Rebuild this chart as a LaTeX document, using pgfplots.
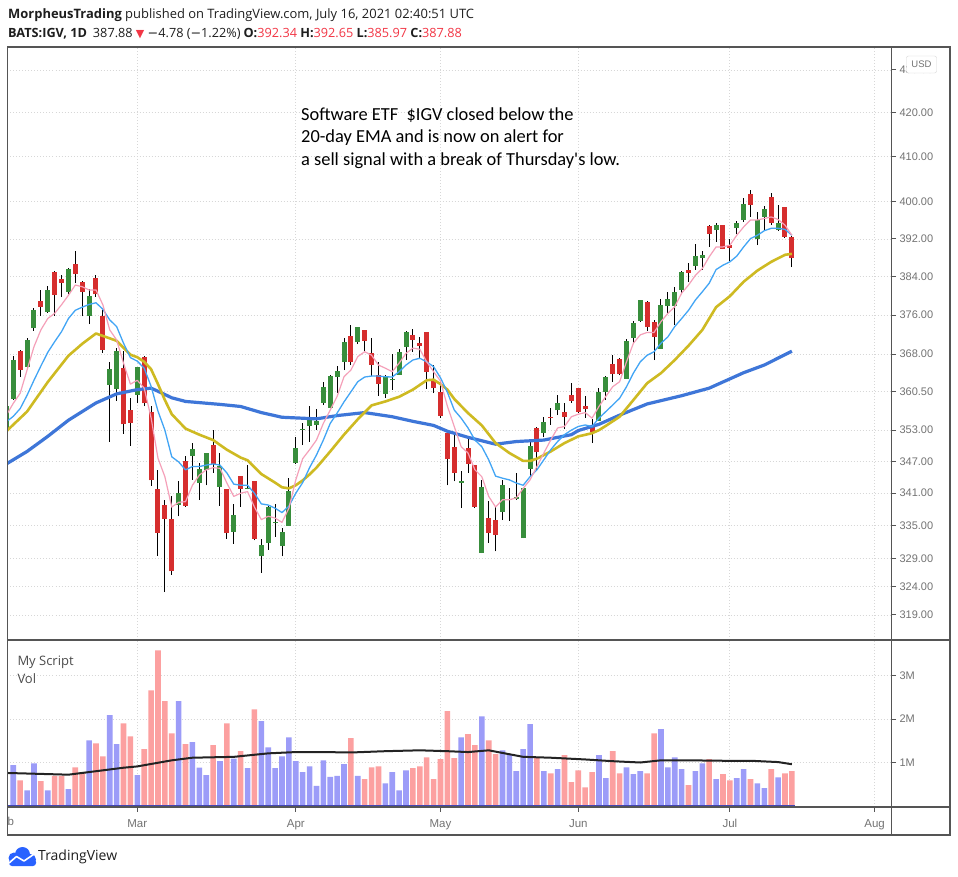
\documentclass[border=0pt]{standalone}
\usepackage{pgfplots}
\pgfplotsset{compat=1.18}
\usepackage{pgfplotstable}
\usepackage{fontspec}
\setmainfont{Liberation Sans}
\newfontfamily\opensans{Open Sans}
\newfontfamily\carlito{Carlito}
\newfontfamily\dejavu{DejaVu Sans}

\definecolor{upc}{RGB}{56,142,60}
\definecolor{dnc}{RGB}{214,46,46}
\definecolor{volup}{RGB}{156,156,248}
\definecolor{voldn}{RGB}{252,160,160}
\definecolor{emaA}{RGB}{245,160,185}
\definecolor{emaB}{RGB}{66,165,245}
\definecolor{emaC}{RGB}{206,186,34}
\definecolor{emaD}{RGB}{62,118,216}
\definecolor{volma}{RGB}{35,35,35}
\definecolor{volbase}{RGB}{67,70,180}
\definecolor{frame}{RGB}{85,85,85}
\definecolor{lbl}{RGB}{115,115,115}
\definecolor{gridc}{RGB}{215,215,215}
\definecolor{hdr}{RGB}{30,30,30}
\definecolor{tvred}{RGB}{242,54,69}
\definecolor{tvblue}{RGB}{41,98,255}

% trading days counted from Mar 1 2021 = 0
% up candles: i open high low close volume(M)
\pgfplotstableread{
i o h l c v
-19 353.0 358.9 352.6 357.6 nan
-18 359.1 367.6 358.9 366.8 0.94
-16 365.5 371.3 365.3 370.9 0.36
-15 373.3 377.4 372.8 377.0 0.98
-13 376.7 382.0 376.5 381.2 0.36
-10 380.8 385.8 380.3 385.7 0.39
-7 375.8 381.3 374.1 379.9 1.51
-4 361.9 366.5 350.8 365.0 2.09
-3 361.1 369.2 358.7 368.6 1.42
0 359.9 365.5 358.2 365.5 0.71
6 338.8 343.2 336.7 341.1 2.41
8 348.1 350.6 343.5 349.4 1.47
9 342.9 346.7 339.75 345.6 0.88
10 345.4 348.6 342.5 348.6 0.71
12 342.2 348.6 338.7 346.1 1.03
14 333.9 339.0 331.7 337.0 1.09
16 341.8 346.3 341.7 342.0 0.87
18 329.4 332.6 326.5 331.5 1.95
19 331.8 338.7 330.6 338.4 1.35
20 335.5 339.0 333.0 335.7 0.87
21 331.3 334.6 329.4 333.8 1.14
22 335.0 343.9 335.0 341.4 1.58
23 346.7 351.7 346.5 349.6 1.03
24 353.1 354.4 350.1 353.3 0.78
25 353.8 357.7 350.8 355.6 0.91
26 354.0 357.1 353.0 354.8 0.46
27 358.4 362.5 357.9 361.5 1.05
28 357.4 363.8 357.3 363.6 0.67
29 363.5 365.6 360.2 364.6 0.69
30 366.5 371.3 364.8 370.4 0.96
32 370.5 373.5 370.0 373.5 0.69
36 360.1 363.8 359.3 363.7 0.52
37 362.8 368.0 360.9 363.0 0.78
38 363.9 369.1 363.9 368.4 0.36
39 369.5 372.7 366.8 372.5 0.82
47 343.0 345.1 338.2 343.2 1.58
50 330.0 343.4 330.0 342.1 2.06
53 337.6 343.5 336.0 342.5 1.28
54 339.75 342.0 335.9 340.0 1.17
55 339.9 344.9 339.75 340.2 0.80
56 332.7 342.0 332.7 341.9 1.31
57 345.6 351.3 344.3 350.0 1.88
59 352.4 355.6 351.6 354.6 0.80
61 356.8 359.9 355.9 358.2 0.85
67 354.8 361.2 354.8 360.5 1.17
68 360.5 363.6 358.9 363.4 0.64
71 363.1 371.1 363.1 370.7 0.89
72 371.3 374.8 370.1 374.3 0.73
73 374.8 379.2 374.6 379.1 0.80
76 369.1 379.4 369.1 378.1 1.77
77 377.8 380.8 376.2 379.3 0.89
78 377.8 381.8 373.9 380.8 1.12
79 381.2 385.2 380.5 385.0 0.85
81 386.3 390.9 385.5 388.4 0.80
82 388.0 389.5 385.5 388.6 0.98
84 393.9 395.4 391.4 394.9 0.62
87 394.3 395.9 393.0 395.5 0.64
88 396.1 400.8 395.7 399.6 0.85
90 392.0 397.8 390.7 396.1 0.52
91 396.7 399.1 393.8 398.5 0.41
93 393.9 399.4 393.8 395.4 0.66
}\upbars

% down candles
\pgfplotstableread{
i o h l c v
-17 368.6 368.9 363.5 364.9 0.59
-14 378.9 381.2 375.8 377.7 0.57
-12 385.0 385.2 375.8 380.2 0.69
-11 383.4 384.3 379.8 382.7 0.69
-9 386.7 389.4 382.6 384.6 0.89
-8 382.9 383.1 375.7 380.8 0.78
-6 383.7 384.3 379.8 380.3 1.44
-5 375.8 377.0 368.3 368.9 1.14
-2 365.3 368.6 352.3 354.1 1.90
-1 356.9 359.3 350.0 354.4 1.60
1 367.4 367.6 357.7 358.2 1.31
2 356.5 357.6 342.4 343.4 2.66
3 341.8 345.4 329.5 333.7 3.58
4 338.8 339.75 323.0 336.3 2.41
5 336.2 340.4 326.1 326.7 1.67
7 347.1 348.1 338.5 338.7 1.42
11 350.1 353.0 344.8 346.5 1.40
13 341.8 341.8 332.6 333.6 1.90
15 344.2 344.2 338.5 341.8 1.26
17 343.2 343.3 332.3 332.6 2.22
31 371.7 373.9 365.8 366.5 1.56
33 372.9 373.0 368.7 370.7 0.62
34 368.2 371.2 363.7 365.9 0.89
35 363.8 366.4 359.7 362.1 0.91
40 371.9 373.1 368.5 370.9 0.87
41 370.3 371.4 367.0 369.7 0.91
42 372.5 372.6 361.1 364.5 1.12
43 362.7 365.8 360.2 361.3 0.62
44 360.5 362.5 355.4 355.8 1.08
45 352.5 352.7 342.5 347.4 2.18
46 349.8 352.1 343.2 344.8 1.10
48 349.6 351.2 344.9 346.5 1.65
49 346.3 346.4 338.2 338.5 1.40
51 336.4 339.6 331.9 333.6 1.51
52 336.0 338.5 330.3 333.3 1.19
58 353.5 353.6 345.4 348.7 1.10
60 355.5 357.4 354.0 355.3 0.75
62 356.5 358.2 353.2 355.6 1.17
63 359.9 362.2 358.4 358.7 0.55
64 361.2 361.2 356.3 356.6 0.82
65 357.7 359.7 355.4 357.2 0.43
66 353.6 355.2 350.5 352.7 0.78
69 366.0 367.8 362.5 364.0 1.26
70 367.0 367.2 363.8 364.0 0.75
74 378.7 378.8 372.8 373.6 0.75
75 374.6 375.0 366.8 371.6 1.67
80 385.4 386.9 382.9 384.8 0.48
83 394.8 394.9 390.3 393.1 1.08
85 395.0 395.1 389.8 389.9 0.73
86 390.7 392.1 387.3 390.1 0.59
89 401.8 402.65 396.8 399.4 0.62
92 401.0 401.9 395.0 395.5 0.85
94 398.9 398.9 392.3 392.5 0.75
95 392.34 392.65 385.97 387.88 0.80
}\dnbars

% pink EMA
\pgfplotstableread{
i v
-19 355.9
-18 358.2
-17 360.2
-16 364.8
-15 369.5
-14 372.9
-13 375.3
-12 376.3
-11 378.1
-10 380.1
-9 382.2
-8 381.9
-7 381.2
-6 381.2
-5 378.1
-4 372.9
-3 370.9
-2 366.2
-1 362.0
0 362.8
1 361.2
2 355.4
3 347.6
4 344.1
5 338.4
6 339.3
7 339.4
8 342.5
9 344.4
10 345.4
11 345.8
12 345.7
13 342.9
14 340.4
15 341.0
16 341.3
17 338.4
18 336.1
19 336.7
20 336.4
21 335.6
22 338.2
23 343.5
24 347.5
25 349.2
26 351.1
27 354.3
28 356.9
29 359.6
30 363.5
31 364.8
32 367.5
33 368.5
34 367.8
35 365.8
36 365.2
37 364.5
38 366.2
39 368.2
40 369.2
41 369.0
42 366.5
43 364.5
44 362.6
45 357.7
46 353.7
47 349.8
48 348.6
49 345.4
50 344.1
51 340.4
52 338.4
53 339.8
54 339.8
55 340.1
56 341.9
57 343.5
58 346.0
59 348.6
60 351.1
61 353.4
62 353.7
63 355.6
64 356.1
65 356.4
66 355.3
67 357.6
68 359.6
69 361.5
70 362.5
71 366.5
72 370.2
73 371.9
74 372.4
75 372.4
76 374.6
77 376.3
78 377.7
79 380.5
80 382.2
81 384.3
82 385.7
83 388.2
84 390.3
85 390.3
86 390.7
87 392.8
88 394.6
89 396.1
90 396.1
91 396.4
92 396.8
93 396.2
94 395.0
95 392.8
}\emaAtab

% light blue EMA
\pgfplotstableread{
i v
-19 354.6
-18 355.7
-17 357.2
-16 359.8
-15 362.8
-14 365.6
-13 368.4
-12 370.5
-11 372.6
-10 375.3
-9 377.0
-8 377.6
-7 378.2
-6 378.5
-5 377.2
-4 375.0
-3 373.6
-2 370.2
-1 367.3
0 366.6
1 365.2
2 361.6
3 356.7
4 353.0
5 347.9
6 346.9
7 345.4
8 346.0
9 346.0
10 346.3
11 346.5
12 346.3
13 344.8
14 342.7
15 342.5
16 342.5
17 341.0
18 339.0
19 338.8
20 338.2
21 337.4
22 338.6
23 341.0
24 343.0
25 345.8
26 348.2
27 351.1
28 354.3
29 356.3
30 358.5
31 360.5
32 362.5
33 363.4
34 363.6
35 363.6
36 363.5
37 363.4
38 364.5
39 365.8
40 366.8
41 367.2
42 366.5
43 365.5
44 363.3
45 360.4
46 356.9
47 355.3
48 353.4
49 351.1
50 349.8
51 347.3
52 344.2
53 343.8
54 343.5
55 342.9
56 342.5
57 344.1
58 345.4
59 347.3
60 349.2
61 350.8
62 352.1
63 353.0
64 353.7
65 354.0
66 353.7
67 355.3
68 356.6
69 357.9
70 359.2
71 361.5
72 364.2
73 366.5
74 367.8
75 368.5
76 370.2
77 371.5
78 373.6
79 375.3
80 377.0
81 379.1
82 380.8
83 382.6
84 385.5
85 386.4
86 387.1
87 388.3
88 390.3
89 392.1
90 392.8
91 393.8
92 394.3
93 394.3
94 394.1
95 392.8
}\emaBtab

% 20-day EMA
\pgfplotstableread{
i v
-19 352.8
-16 356.6
-13 362.4
-10 367.7
-8 370.1
-6 372.2
-5 371.7
-3 370.7
-1 367.9
0 367.4
1 366.5
2 365.0
3 362.0
4 358.9
5 356.1
7 353.3
9 352.1
11 351.1
13 349.2
15 347.7
16 347.2
18 344.6
20 343.0
21 342.1
22 341.9
23 342.5
24 343.4
25 344.5
26 345.8
28 348.9
30 352.1
32 355.1
34 357.8
36 358.6
38 359.5
40 360.9
42 362.8
43 362.9
44 362.0
45 360.9
46 359.1
48 356.3
50 353.9
52 350.5
54 348.6
56 347.1
57 347.1
58 347.5
60 348.9
62 350.5
64 351.8
66 352.4
67 353.0
68 353.8
70 355.6
72 358.9
74 362.2
76 364.2
78 366.8
80 369.7
82 372.9
84 377.6
86 379.9
88 382.9
90 385.3
92 387.1
94 388.6
95 388.8
}\emaCtab

% 50-day EMA
\pgfplotstableread{
i v
-19 346.5
-16 348.9
-13 351.8
-10 354.9
-6 358.3
-3 360.1
0 360.9
2 361.2
3 360.6
5 359.3
7 358.6
12 358.0
15 357.6
18 356.4
21 355.5
26 355.2
29 355.8
33 356.4
37 355.6
40 354.7
43 353.9
45 352.8
48 351.6
52 350.3
55 350.8
59 351.1
63 352.1
64 352.9
67 354.1
70 355.9
74 358.1
79 359.7
83 361.2
88 364.3
91 365.8
95 368.6
}\emaDtab

% volume moving average (M)
\pgfplotstableread{
i m
-19 0.76
-10 0.72
-5 0.82
-2 0.88
0 0.91
5 1.05
8 1.11
14 1.13
19 1.21
23 1.24
27 1.24
31 1.23
36 1.26
41 1.28
45 1.26
48 1.24
51 1.28
54 1.19
56 1.13
60 1.11
65 1.07
69 1.03
73 1.00
76 1.05
80 1.05
85 1.04
89 1.04
93 1.01
95 0.96
}\volmatab

\pgfplotsset{
  tv/.style={
    scale only axis, width=884pt, xmin=-18.84, xmax=109.46,
    axis line style={draw=frame, line width=1.2pt},
    tick align=outside, major tick length=4.5pt,
    tick style={draw=frame, line width=0.9pt},
    ticklabel style={font=\fontsize{11}{13}\selectfont, text=lbl},
    grid style={draw=gridc, line width=0.8pt, dash pattern=on 1pt off 2pt},
    xmajorgrids, ymajorgrids,
    ytick pos=right, yticklabel pos=right,
    yticklabel style={anchor=west},
  },
  wick/.style={draw=none, mark=none, forget plot,
    error bars/y dir=plus, error bars/y explicit, error bars/error mark=none,
    error bars/error bar style={draw=black, line width=1pt, solid}},
  body/.style={draw=none, mark=none, forget plot,
    error bars/y dir=plus, error bars/y explicit, error bars/error mark=none,
    error bars/error bar style={draw=#1, line width=5pt, solid}},
}

\begin{document}
\begin{tikzpicture}[x=1pt,y=1pt]
\path[use as bounding box, fill=white] (0,0) rectangle (958,876);

% header
\node[anchor=base west, inner sep=0, text=hdr, font=\opensans\fontsize{12.95}{15}\selectfont] at (8,857)
  {\textbf{MorpheusTrading} published on TradingView.com, July 16, 2021 02:40:51 UTC};
\node[anchor=base west, inner sep=0, text=hdr, font=\opensans\fontsize{12.7}{15}\selectfont] at (8,838.3)
  {\textbf{BATS:IGV, 1D}\hspace{6pt}387.88 {\dejavu\color{tvred}\fontsize{11}{13}\selectfont ▼} {\dejavu −}4.78 ({\dejavu −}1.22\%)\hspace{3pt}\textbf{O:}\textcolor{tvred}{392.34} \textbf{H:}\textcolor{tvred}{392.65} \textbf{L:}\textcolor{tvred}{385.97} \textbf{C:}\textcolor{tvred}{387.88}};

% price panel
\begin{axis}[tv, at={(7.5pt,236pt)}, anchor=south west, height=593pt,
  ymode=log, ymin=314.66, ymax=435.47, yminorticks=false,
  ytick={319,324,329,335,341,347,353,360.5,368,376,384,392,400,410,420,430},
  yticklabels={319.00,324.00,329.00,335.00,341.00,347.00,353.00,360.50,368.00,376.00,384.00,392.00,400.00,410.00,420.00,430.00},
  xtick={0,23,44,64,86,107}, xticklabels={}, xtick style={draw=none}]
  \addplot[wick] table[x=i, y=l, y error plus expr={\thisrow{h}-\thisrow{l}}] {\upbars};
  \addplot[wick] table[x=i, y=l, y error plus expr={\thisrow{h}-\thisrow{l}}] {\dnbars};
  \addplot[body=upc] table[x=i, y=o, y error plus expr={\thisrow{c}-\thisrow{o}}] {\upbars};
  \addplot[body=dnc] table[x=i, y=c, y error plus expr={\thisrow{o}-\thisrow{c}}] {\dnbars};
  \addplot[emaD, line width=3.2pt, line join=round] table[x=i, y=v] {\emaDtab};
  \addplot[emaC, line width=2.6pt, line join=round] table[x=i, y=v] {\emaCtab};
  \addplot[emaB, line width=1.3pt, line join=round] table[x=i, y=v] {\emaBtab};
  \addplot[emaA, line width=1.2pt, line join=round] table[x=i, y=v] {\emaAtab};
\end{axis}

% volume panel
\begin{axis}[tv, at={(7.5pt,69pt)}, anchor=south west, height=167pt,
  ymin=-0.023, ymax=3.816,
  ytick={1,2,3}, yticklabels={1M,2M,3M},
  xtick={0,23,44,64,86,107}, xticklabels={Mar,Apr,May,Jun,Jul,Aug},
  xtick pos=left, xticklabel style={font=\fontsize{11.5}{13}\selectfont, yshift=-4.5pt}]
  \addplot[ybar, bar width=5.6pt, bar shift=0pt, fill=volup, draw=none] table[x=i, y=v] {\upbars};
  \addplot[ybar, bar width=5.6pt, bar shift=0pt, fill=voldn, draw=none] table[x=i, y=v] {\dnbars};
  \draw[volbase, line width=1.2pt] (axis cs:-18.84,0) -- (axis cs:95.4,0);
  \addplot[volma, line width=2pt, line join=round] table[x=i, y=m] {\volmatab};
\end{axis}

% outer frame
\draw[frame, line width=1.2pt] (7.5,41) rectangle (950,829);
\draw[frame, line width=1.2pt] (891.5,41) -- (891.5,829);
\draw[frame, line width=1.2pt] (7.5,236) -- (950,236);
\draw[frame, line width=1.2pt] (7.5,69) -- (950,69);

% clipped Feb label
\begin{scope}
  \clip (8.2,42) rectangle (60,68);
  \node[anchor=base, inner sep=0, text=lbl, font=\fontsize{11.5}{13}\selectfont] at (4,51) {Feb};
\end{scope}

% USD badge
\node[draw=gridc, fill=white, rounded corners=2pt, text=lbl, inner sep=0pt,
  minimum width=30pt, minimum height=17pt,
  font=\fontsize{9.5}{11}\selectfont] at (921.5,811.5) {USD};

% pane labels
\node[anchor=base west, inner sep=0, text=black!70, font=\opensans\fontsize{13}{15}\selectfont] at (17.3,211) {My Script};
\node[anchor=base west, inner sep=0, text=black!70, font=\opensans\fontsize{13}{15}\selectfont] at (17.3,192.5) {Vol};

% annotation
\begin{scope}[every node/.style={anchor=base west, inner sep=0, text=black, font=\carlito\fontsize{18.4}{22}\selectfont}]
  \node at (301,755.3) {Software ETF\ \ \$IGV closed below the};
  \node at (301,733.3) {20-day EMA and is now on alert for};
  \node at (301,710.3) {a sell signal with a break of Thursday\textquotesingle s low.};
\end{scope}

% TradingView logo
\fill[tvblue, rounded corners=3pt] (9,10) rectangle (36,17);
\fill[tvblue] (14,18) circle (5.5);
\fill[tvblue] (22.5,21.5) circle (7.5);
\fill[tvblue] (30.5,16.5) circle (5.5);
\draw[white, line width=1.6pt, line join=round, line cap=round] (9,13) -- (16.5,19.5) -- (24,15) -- (33.5,21.5);
\node[anchor=base west, inner sep=0, text=hdr, font=\opensans\fontsize{14}{16}\selectfont] at (38,15.5) {TradingView};
\end{tikzpicture}
\end{document}
